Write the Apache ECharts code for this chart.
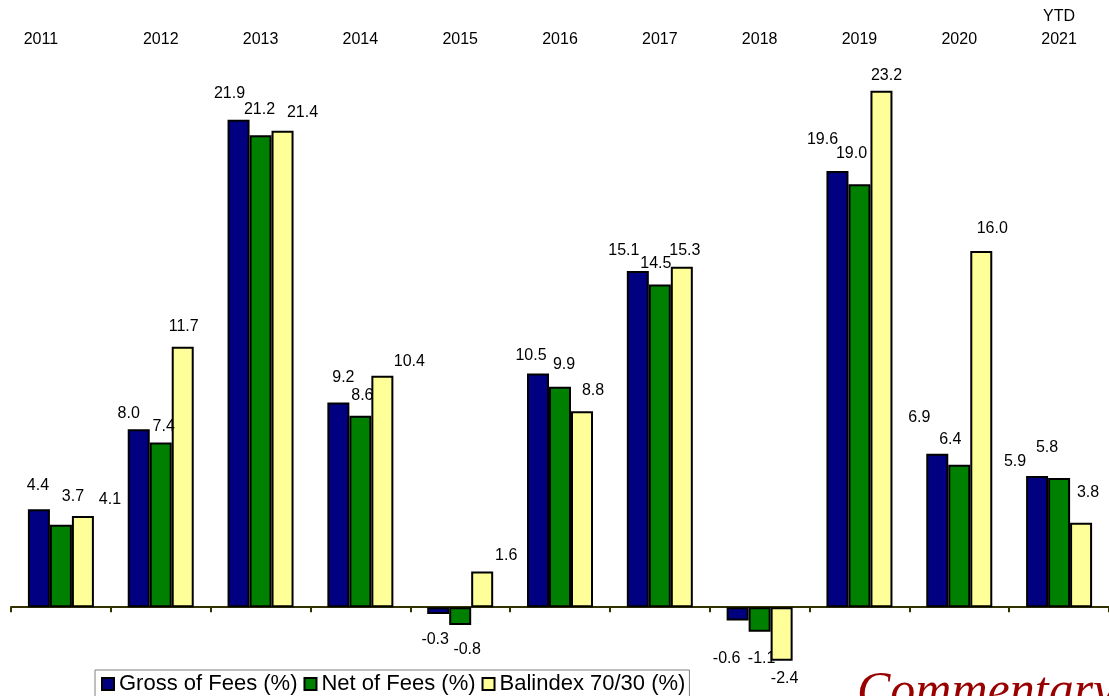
<!DOCTYPE html>
<html>
<head>
<meta charset="utf-8">
<script src="https://cdn.jsdelivr.net/npm/echarts@6/dist/echarts.min.js"></script>
<style>
  html, body { margin: 0; padding: 0; background: #ffffff; overflow: hidden; }
  #chart { width: 1109px; height: 696px; }
</style>
</head>
<body>
<div id="chart"></div>
<script>
// ---- data ----
const categories = ['2011', '2012', '2013', '2014', '2015', '2016', '2017', '2018', '2019', '2020', 'YTD\n2021'];
const grossOfFees = [4.4, 8.0, 21.9, 9.2, -0.3, 10.5, 15.1, -0.6, 19.6, 6.9, 5.9];
const netOfFees   = [3.7, 7.4, 21.2, 8.6, -0.8, 9.9, 14.5, -1.1, 19.0, 6.4, 5.8];
const balindex    = [4.1, 11.7, 21.4, 10.4, 1.6, 8.8, 15.3, -2.4, 23.2, 16.0, 3.8];
const seriesNames = ['Gross of Fees (%)', 'Net of Fees (%)', 'Balindex 70/30 (%)'];

// ---- label nudges (style only: horizontal shift, distance from bar end to label centre) ----
const grossLabelDX = [-1, -10, -9, 5, -3, -7, -14, -11, -15, -18, -22];
const grossLabelDY = [24, 16, 26, 25, 26, 18, 21, 38, 31, 36, 14];
const netLabelDX   = [12, 3, -1, 2, 7, 4, -4, 2, -8, -9, -12];
const netLabelDY   = [28, 16, 26, 20, 25, 22, 21, 27, 31, 25, 31];
const balLabelDX   = [27, 1, 20, 27, 24, 11, 3, 3, 5, 11, 7];
const balLabelDY   = [16, 20, 18, 14, 16, 21, 16, 18, 15, 22, 30];

const colors = ['#000080', '#008000', '#FFFF99'];

function buildData(values, dxs, dys) {
  return values.map(function (v, i) {
    const neg = v < 0;
    return {
      value: v,
      label: {
        position: neg ? 'bottom' : 'top',
        distance: 0,
        offset: [dxs[i], neg ? (dys[i] - 8) : -(dys[i] - 8)]
      }
    };
  });
}

function makeSeries(name, values, dxs, dys, color) {
  return {
    name: name,
    type: 'bar',
    xAxisIndex: 0,
    yAxisIndex: 0,
    barWidth: 22,
    barGap: '0%',
    data: buildData(values, dxs, dys),
    itemStyle: { color: color, borderColor: '#000000', borderWidth: 2 },
    label: {
      show: true,
      color: '#000000',
      fontFamily: 'Liberation Sans, Arial, sans-serif',
      fontSize: 16,
      formatter: function (p) { return p.value.toFixed(1); }
    },
    emphasis: { disabled: true }
  };
}

const chart = echarts.init(document.getElementById('chart'), null, { renderer: 'canvas' });

chart.setOption({
  animation: false,
  backgroundColor: '#ffffff',
  grid: { left: 11, top: 73, width: 1105, height: 601, containLabel: false },
  legend: {
    left: 95,
    top: 670,
    orient: 'horizontal',
    data: seriesNames,
    icon: 'rect',
    itemWidth: 12,
    itemHeight: 12,
    itemGap: 6,
    borderColor: '#808080',
    borderWidth: 1,
    padding: [3, 4, 3, 6],
    textStyle: { color: '#000000', fontSize: 22, fontFamily: 'Liberation Sans, Arial, sans-serif' }
  },
  xAxis: [
    {
      type: 'category',
      data: categories,
      position: 'bottom',
      axisLine: { onZero: true, lineStyle: { color: '#333300', width: 2 } },
      axisTick: { show: true, length: 5, lineStyle: { color: '#333300', width: 2 } },
      axisLabel: { show: false },
      splitLine: { show: false }
    },
    {
      type: 'category',
      data: categories,
      position: 'top',
      axisLine: { show: false },
      axisTick: { show: false },
      splitLine: { show: false },
      axisLabel: {
        show: true,
        interval: 0,
        margin: 22,
        color: '#000000',
        fontSize: 16,
        lineHeight: 23,
        fontFamily: 'Liberation Sans, Arial, sans-serif',
        formatter: function (v, i) { return i === 0 ? '{first|' + v + '}' : v; },
        rich: { first: { fontSize: 16, lineHeight: 23, padding: [0, 40, 0, 0], color: '#000000' } }
      }
    }
  ],
  yAxis: {
    type: 'value',
    min: -3,
    max: 24,
    show: false,
    splitLine: { show: false }
  },
  series: [
    makeSeries(seriesNames[0], grossOfFees, grossLabelDX, grossLabelDY, colors[0]),
    makeSeries(seriesNames[1], netOfFees, netLabelDX, netLabelDY, colors[1]),
    makeSeries(seriesNames[2], balindex, balLabelDX, balLabelDY, colors[2])
  ],
  graphic: [
    {
      type: 'text',
      left: 857,
      top: 668,
      silent: true,
      style: {
        text: 'Commentary',
        fill: '#990000',
        font: 'italic 50px "Liberation Serif", "Times New Roman", serif'
      }
    }
  ]
});
</script>
</body>
</html>
